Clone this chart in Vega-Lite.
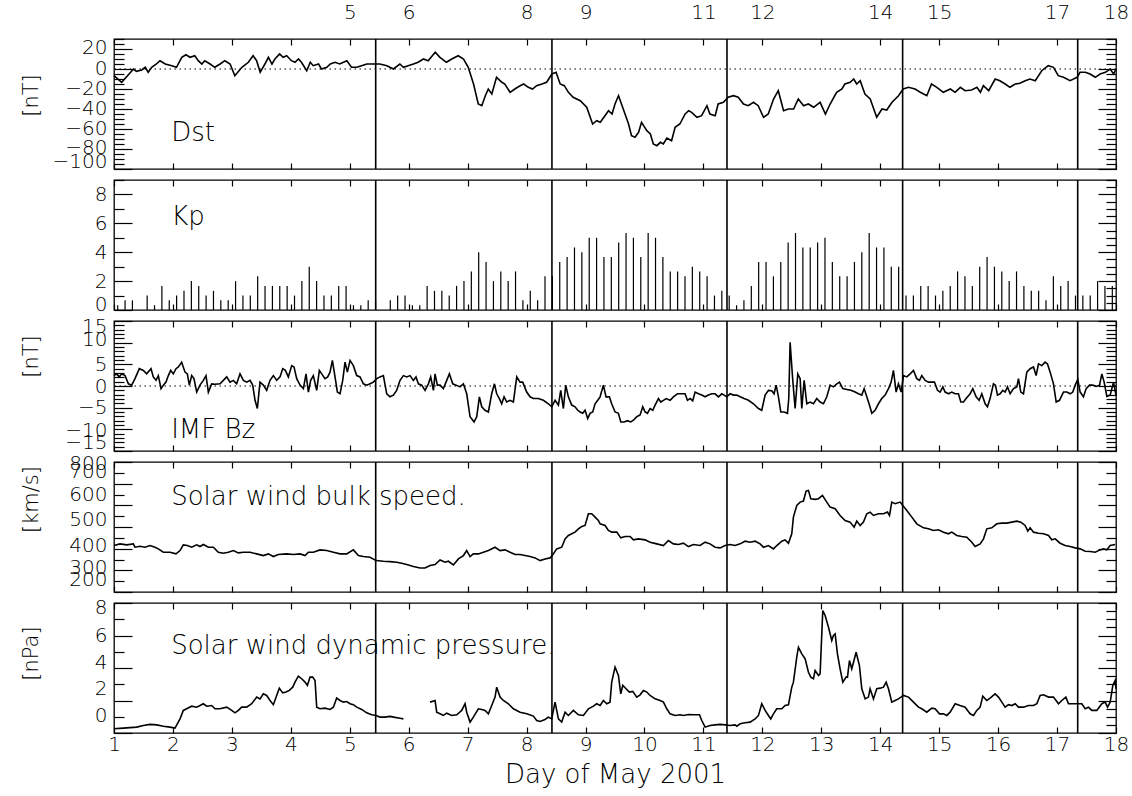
{
  "$schema": "https://vega.github.io/schema/vega-lite/v6.json",
  "background": "white",
  "autosize": {"type": "pad"},
  "padding": {"left": 19, "top": 1, "right": 5, "bottom": 8},
  "spacing": 11,
  "bounds": "flush",
  "config": {
    "view": {"stroke": "black", "strokeWidth": 1.3},
    "font": "DejaVu Sans",
    "axis": {
      "domain": false, "grid": false,
      "tickColor": "black", "tickWidth": 1.2,
      "labelColor": "black", "labelFont": "DejaVu Sans", "labelFontSize": 20, "labelFontWeight": 200,
      "labelOverlap": false, "labelFlush": false, "labelBound": false,
      "titleColor": "black", "titleFont": "DejaVu Sans", "titleFontSize": 21, "titleFontWeight": 200
    },
    "text": {"font": "DejaVu Sans", "fontSize": 26, "fontWeight": 200, "align": "left", "baseline": "alphabetic", "color": "black"}
  },
  "datasets": {
    "events": [{"d": 5.44}, {"d": 8.43}, {"d": 11.40}, {"d": 14.38}, {"d": 17.35}],
    "dst": [
      {"d":1.00,"v":-6.7},{"d":1.13,"v":-13.3},{"d":1.33,"v":0},{"d":1.38,"v":-2.3},{"d":1.47,"v":-1},{"d":1.53,"v":1.7},{"d":1.58,"v":-3.3},{"d":1.64,"v":1.7},{"d":1.72,"v":5},{"d":1.78,"v":8.3},{"d":1.87,"v":5},{"d":1.98,"v":3.3},{"d":2.06,"v":1.7},{"d":2.15,"v":11.7},{"d":2.22,"v":14.3},{"d":2.29,"v":11.7},{"d":2.37,"v":13.3},{"d":2.43,"v":8.3},{"d":2.49,"v":5},{"d":2.54,"v":8.3},{"d":2.63,"v":5},{"d":2.71,"v":1.7},{"d":2.80,"v":5},{"d":2.88,"v":8.3},{"d":2.97,"v":5},{"d":3.05,"v":-6.7},{"d":3.17,"v":1.7},{"d":3.28,"v":6.7},{"d":3.36,"v":13.3},{"d":3.42,"v":8.3},{"d":3.48,"v":-3.3},{"d":3.56,"v":5},{"d":3.62,"v":11.7},{"d":3.68,"v":5},{"d":3.73,"v":10},{"d":3.81,"v":15},{"d":3.87,"v":11.7},{"d":3.93,"v":13.3},{"d":4.01,"v":8.3},{"d":4.07,"v":6.7},{"d":4.13,"v":10},{"d":4.18,"v":6.7},{"d":4.27,"v":-1.7},{"d":4.33,"v":6.7},{"d":4.38,"v":3.3},{"d":4.47,"v":5},{"d":4.52,"v":0},{"d":4.61,"v":1.7},{"d":4.67,"v":5},{"d":4.75,"v":6.7},{"d":4.83,"v":5},{"d":4.95,"v":8.3},{"d":5.03,"v":1.7},{"d":5.12,"v":1.7},{"d":5.20,"v":3.3},{"d":5.29,"v":5},{"d":5.40,"v":5},{"d":5.51,"v":5},{"d":5.63,"v":3.3},{"d":5.74,"v":0},{"d":5.85,"v":5},{"d":5.91,"v":1.7},{"d":5.99,"v":3.3},{"d":6.08,"v":5},{"d":6.16,"v":6.7},{"d":6.25,"v":10},{"d":6.33,"v":8.3},{"d":6.45,"v":16.7},{"d":6.53,"v":11.7},{"d":6.64,"v":6.7},{"d":6.73,"v":10},{"d":6.84,"v":13.3},{"d":6.93,"v":10},{"d":7.01,"v":1.7},{"d":7.10,"v":-15},{"d":7.18,"v":-35},{"d":7.24,"v":-36.7},{"d":7.30,"v":-26.7},{"d":7.35,"v":-20},{"d":7.41,"v":-25},{"d":7.49,"v":-8.3},{"d":7.58,"v":-13.3},{"d":7.63,"v":-15},{"d":7.72,"v":-23.3},{"d":7.80,"v":-20},{"d":7.89,"v":-16.7},{"d":7.95,"v":-15},{"d":8.03,"v":-18.3},{"d":8.10,"v":-20},{"d":8.17,"v":-16.7},{"d":8.26,"v":-15},{"d":8.34,"v":-13.3},{"d":8.43,"v":-5},{"d":8.50,"v":-3.3},{"d":8.57,"v":-15},{"d":8.64,"v":-16.7},{"d":8.71,"v":-23.3},{"d":8.79,"v":-28.3},{"d":8.91,"v":-31.7},{"d":9.02,"v":-38.3},{"d":9.12,"v":-55},{"d":9.19,"v":-51.7},{"d":9.25,"v":-53.3},{"d":9.33,"v":-46.7},{"d":9.39,"v":-41.7},{"d":9.45,"v":-45},{"d":9.50,"v":-35},{"d":9.56,"v":-26.7},{"d":9.64,"v":-40},{"d":9.73,"v":-55},{"d":9.78,"v":-66.7},{"d":9.84,"v":-68.3},{"d":9.90,"v":-63.3},{"d":9.95,"v":-53.3},{"d":10.04,"v":-61.7},{"d":10.10,"v":-65},{"d":10.15,"v":-75},{"d":10.21,"v":-76.7},{"d":10.27,"v":-73.3},{"d":10.32,"v":-75},{"d":10.38,"v":-69},{"d":10.46,"v":-71.7},{"d":10.52,"v":-58.3},{"d":10.60,"v":-55},{"d":10.69,"v":-45},{"d":10.75,"v":-41.7},{"d":10.80,"v":-43.3},{"d":10.89,"v":-48.3},{"d":10.97,"v":-46.7},{"d":11.06,"v":-36.7},{"d":11.11,"v":-45},{"d":11.20,"v":-46.7},{"d":11.25,"v":-35},{"d":11.34,"v":-33.3},{"d":11.42,"v":-28.3},{"d":11.51,"v":-26.7},{"d":11.59,"v":-28.3},{"d":11.68,"v":-35},{"d":11.76,"v":-36.7},{"d":11.85,"v":-33.3},{"d":11.93,"v":-36.7},{"d":12.02,"v":-48.3},{"d":12.10,"v":-45},{"d":12.19,"v":-30},{"d":12.27,"v":-21.7},{"d":12.36,"v":-41.7},{"d":12.44,"v":-40},{"d":12.53,"v":-40},{"d":12.61,"v":-30},{"d":12.70,"v":-36.7},{"d":12.78,"v":-35},{"d":12.87,"v":-38.3},{"d":12.98,"v":-33.3},{"d":13.07,"v":-45},{"d":13.15,"v":-35},{"d":13.26,"v":-23.3},{"d":13.35,"v":-20},{"d":13.40,"v":-15},{"d":13.49,"v":-13.3},{"d":13.55,"v":-10},{"d":13.60,"v":-15},{"d":13.66,"v":-11.7},{"d":13.74,"v":-25},{"d":13.83,"v":-30},{"d":13.94,"v":-48.3},{"d":14.03,"v":-40},{"d":14.11,"v":-41},{"d":14.20,"v":-33.3},{"d":14.31,"v":-26.7},{"d":14.39,"v":-20},{"d":14.48,"v":-18.3},{"d":14.59,"v":-20},{"d":14.68,"v":-23.3},{"d":14.79,"v":-26.7},{"d":14.87,"v":-15},{"d":14.96,"v":-18.3},{"d":15.07,"v":-23.3},{"d":15.19,"v":-20},{"d":15.27,"v":-23.3},{"d":15.36,"v":-18.3},{"d":15.44,"v":-21.7},{"d":15.55,"v":-21},{"d":15.64,"v":-18.3},{"d":15.70,"v":-23.3},{"d":15.75,"v":-16.7},{"d":15.84,"v":-21.7},{"d":15.95,"v":-10},{"d":16.03,"v":-11.7},{"d":16.12,"v":-15},{"d":16.20,"v":-18.3},{"d":16.29,"v":-15},{"d":16.37,"v":-14.3},{"d":16.46,"v":-11.7},{"d":16.54,"v":-10},{"d":16.63,"v":-11.7},{"d":16.74,"v":-1.7},{"d":16.85,"v":3.3},{"d":16.94,"v":1.7},{"d":17.02,"v":-6.7},{"d":17.11,"v":-8.3},{"d":17.22,"v":-11.7},{"d":17.34,"v":-8.3},{"d":17.39,"v":-3.3},{"d":17.48,"v":-3.3},{"d":17.56,"v":-5},{"d":17.65,"v":-8.3},{"d":17.73,"v":-5},{"d":17.82,"v":-3.3},{"d":17.90,"v":0},{"d":17.96,"v":-5},{"d":18.00,"v":0}
    ],
    "kp": [
      {"d":1.0625,"v":0.33},{"d":1.1875,"v":0.67},{"d":1.3125,"v":0.67},{"d":1.4375,"v":0},{"d":1.5625,"v":1.0},{"d":1.6875,"v":0.33},{"d":1.8125,"v":1.67},{"d":1.9375,"v":0.67},
      {"d":2.0625,"v":1.0},{"d":2.1875,"v":1.33},{"d":2.3125,"v":2.0},{"d":2.4375,"v":1.67},{"d":2.5625,"v":1.0},{"d":2.6875,"v":1.33},{"d":2.8125,"v":0.67},{"d":2.9375,"v":0.67},
      {"d":3.0625,"v":2.0},{"d":3.1875,"v":1.0},{"d":3.3125,"v":1.0},{"d":3.4375,"v":2.33},{"d":3.5625,"v":1.67},{"d":3.6875,"v":1.67},{"d":3.8125,"v":1.67},{"d":3.9375,"v":1.67},
      {"d":4.0625,"v":1.0},{"d":4.1875,"v":2.0},{"d":4.3125,"v":3.0},{"d":4.4375,"v":2.0},{"d":4.5625,"v":1.0},{"d":4.6875,"v":1.0},{"d":4.8125,"v":1.67},{"d":4.9375,"v":1.67},
      {"d":5.0625,"v":0.33},{"d":5.1875,"v":0.33},{"d":5.3125,"v":0.67},{"d":5.4375,"v":0.67},{"d":5.5625,"v":0},{"d":5.6875,"v":0.67},{"d":5.8125,"v":1.0},{"d":5.9375,"v":1.0},
      {"d":6.0625,"v":0.33},{"d":6.1875,"v":0.33},{"d":6.3125,"v":1.67},{"d":6.4375,"v":1.33},{"d":6.5625,"v":1.33},{"d":6.6875,"v":1.0},{"d":6.8125,"v":1.67},{"d":6.9375,"v":2.0},
      {"d":7.0625,"v":2.67},{"d":7.1875,"v":4.0},{"d":7.3125,"v":3.33},{"d":7.4375,"v":2.0},{"d":7.5625,"v":2.67},{"d":7.6875,"v":2.0},{"d":7.8125,"v":2.67},{"d":7.9375,"v":0.67},
      {"d":8.0625,"v":1.33},{"d":8.1875,"v":0.67},{"d":8.3125,"v":2.33},{"d":8.4375,"v":2.33},{"d":8.5625,"v":3.33},{"d":8.6875,"v":3.67},{"d":8.8125,"v":4.33},{"d":8.9375,"v":4.0},
      {"d":9.0625,"v":5.0},{"d":9.1875,"v":5.0},{"d":9.3125,"v":3.67},{"d":9.4375,"v":3.67},{"d":9.5625,"v":4.67},{"d":9.6875,"v":5.33},{"d":9.8125,"v":5.0},{"d":9.9375,"v":3.67},
      {"d":10.0625,"v":5.33},{"d":10.1875,"v":5.0},{"d":10.3125,"v":3.67},{"d":10.4375,"v":2.67},{"d":10.5625,"v":2.67},{"d":10.6875,"v":2.33},{"d":10.8125,"v":3.0},{"d":10.9375,"v":2.67},
      {"d":11.0625,"v":2.33},{"d":11.1875,"v":1.0},{"d":11.3125,"v":1.33},{"d":11.4375,"v":1.0},{"d":11.5625,"v":0.33},{"d":11.6875,"v":0.67},{"d":11.8125,"v":1.67},{"d":11.9375,"v":3.33},
      {"d":12.0625,"v":3.33},{"d":12.1875,"v":2.33},{"d":12.3125,"v":3.33},{"d":12.4375,"v":4.67},{"d":12.5625,"v":5.33},{"d":12.6875,"v":4.33},{"d":12.8125,"v":4.33},{"d":12.9375,"v":4.67},
      {"d":13.0625,"v":5.0},{"d":13.1875,"v":3.33},{"d":13.3125,"v":2.33},{"d":13.4375,"v":2.33},{"d":13.5625,"v":3.33},{"d":13.6875,"v":4.0},{"d":13.8125,"v":5.33},{"d":13.9375,"v":4.33},
      {"d":14.0625,"v":4.33},{"d":14.1875,"v":3.0},{"d":14.3125,"v":3.0},{"d":14.4375,"v":1.0},{"d":14.5625,"v":1.0},{"d":14.6875,"v":1.67},{"d":14.8125,"v":1.67},{"d":14.9375,"v":1.0},
      {"d":15.0625,"v":1.33},{"d":15.1875,"v":1.67},{"d":15.3125,"v":2.67},{"d":15.4375,"v":2.33},{"d":15.5625,"v":1.67},{"d":15.6875,"v":3.0},{"d":15.8125,"v":3.67},{"d":15.9375,"v":3.0},
      {"d":16.0625,"v":2.67},{"d":16.1875,"v":2.0},{"d":16.3125,"v":2.67},{"d":16.4375,"v":1.67},{"d":16.5625,"v":1.33},{"d":16.6875,"v":1.33},{"d":16.8125,"v":0.67},{"d":16.9375,"v":2.33},
      {"d":17.0625,"v":1.67},{"d":17.1875,"v":2.0},{"d":17.3125,"v":1.0},{"d":17.4375,"v":1.0},{"d":17.5625,"v":1.0},{"d":17.6875,"v":2.0},{"d":17.8125,"v":1.67},{"d":17.9375,"v":1.67}
    ],
    "bz": [
      {"d":1.000,"v":2.4},{"d":1.045,"v":2.8},{"d":1.090,"v":2.1},{"d":1.130,"v":2.8},{"d":1.187,"v":2.4},{"d":1.244,"v":0.5},{"d":1.300,"v":0.2},{"d":1.356,"v":1.7},{"d":1.430,"v":4.0},{"d":1.498,"v":3.6},{"d":1.554,"v":2.8},{"d":1.628,"v":4.0},{"d":1.667,"v":2.1},{"d":1.713,"v":1.3},{"d":1.752,"v":2.4},{"d":1.798,"v":-0.6},{"d":1.837,"v":0.2},{"d":1.882,"v":0.9},{"d":1.922,"v":2.4},{"d":1.962,"v":3.6},{"d":2.007,"v":2.8},{"d":2.052,"v":4.0},{"d":2.092,"v":4.4},{"d":2.148,"v":5.5},{"d":2.205,"v":3.2},{"d":2.244,"v":2.8},{"d":2.278,"v":0.2},{"d":2.318,"v":2.4},{"d":2.357,"v":1.7},{"d":2.403,"v":-1.4},{"d":2.459,"v":0.2},{"d":2.516,"v":1.3},{"d":2.561,"v":2.4},{"d":2.601,"v":-1.4},{"d":2.657,"v":0.5},{"d":2.714,"v":0.4},{"d":2.799,"v":0.5},{"d":2.855,"v":1.3},{"d":2.912,"v":2.1},{"d":2.968,"v":0.9},{"d":3.025,"v":1.3},{"d":3.081,"v":0.5},{"d":3.138,"v":2.8},{"d":3.195,"v":1.3},{"d":3.251,"v":0.9},{"d":3.308,"v":1.3},{"d":3.353,"v":0.2},{"d":3.393,"v":-3.3},{"d":3.432,"v":-5.2},{"d":3.477,"v":0.9},{"d":3.534,"v":0.2},{"d":3.590,"v":-1.0},{"d":3.647,"v":1.3},{"d":3.704,"v":2.4},{"d":3.760,"v":1.3},{"d":3.817,"v":2.1},{"d":3.862,"v":4.0},{"d":3.907,"v":3.6},{"d":3.958,"v":2.1},{"d":4.015,"v":4.7},{"d":4.054,"v":4.4},{"d":4.100,"v":1.7},{"d":4.156,"v":0.2},{"d":4.213,"v":-0.6},{"d":4.258,"v":2.8},{"d":4.298,"v":-1.4},{"d":4.337,"v":1.3},{"d":4.382,"v":2.4},{"d":4.439,"v":-1.0},{"d":4.484,"v":3.6},{"d":4.524,"v":2.8},{"d":4.580,"v":1.7},{"d":4.626,"v":2.1},{"d":4.665,"v":3.2},{"d":4.705,"v":5.9},{"d":4.750,"v":2.1},{"d":4.790,"v":-1.4},{"d":4.835,"v":-1.8},{"d":4.880,"v":1.3},{"d":4.920,"v":5.5},{"d":4.959,"v":3.2},{"d":5.005,"v":5.9},{"d":5.061,"v":4.7},{"d":5.118,"v":2.4},{"d":5.174,"v":2.1},{"d":5.231,"v":0.5},{"d":5.287,"v":0.2},{"d":5.344,"v":0.5},{"d":5.400,"v":0.9},{"d":5.457,"v":1.7},{"d":5.514,"v":2.1},{"d":5.570,"v":2.4},{"d":5.627,"v":-1.8},{"d":5.683,"v":-2.5},{"d":5.740,"v":-2.1},{"d":5.796,"v":-1.0},{"d":5.853,"v":1.3},{"d":5.910,"v":2.4},{"d":5.966,"v":2.1},{"d":6.023,"v":2.4},{"d":6.079,"v":1.3},{"d":6.124,"v":2.1},{"d":6.164,"v":0.5},{"d":6.221,"v":0.2},{"d":6.277,"v":-1.0},{"d":6.334,"v":0.5},{"d":6.373,"v":2.1},{"d":6.419,"v":-1.0},{"d":6.447,"v":2.8},{"d":6.486,"v":0.2},{"d":6.532,"v":0.2},{"d":6.588,"v":-0.6},{"d":6.645,"v":1.3},{"d":6.690,"v":2.8},{"d":6.747,"v":0.5},{"d":6.803,"v":0.2},{"d":6.871,"v":-0.2},{"d":6.928,"v":0.5},{"d":6.984,"v":-1.8},{"d":7.041,"v":-7.1},{"d":7.109,"v":-8.3},{"d":7.154,"v":-7.1},{"d":7.199,"v":-2.5},{"d":7.239,"v":-4.8},{"d":7.295,"v":-5.6},{"d":7.352,"v":-6.0},{"d":7.408,"v":-1.8},{"d":7.454,"v":0.5},{"d":7.493,"v":-1.8},{"d":7.538,"v":-2.9},{"d":7.578,"v":-4.1},{"d":7.618,"v":-2.5},{"d":7.663,"v":-3.7},{"d":7.719,"v":-3.3},{"d":7.776,"v":-3.7},{"d":7.833,"v":2.1},{"d":7.889,"v":0.9},{"d":7.934,"v":0.9},{"d":8.002,"v":-1.4},{"d":8.059,"v":-2.5},{"d":8.115,"v":-2.9},{"d":8.200,"v":-2.9},{"d":8.285,"v":-3.3},{"d":8.370,"v":-4.1},{"d":8.426,"v":-4.8},{"d":8.483,"v":-3.3},{"d":8.540,"v":-4.4},{"d":8.579,"v":-1.0},{"d":8.624,"v":-5.2},{"d":8.664,"v":0.2},{"d":8.709,"v":-2.5},{"d":8.766,"v":-4.4},{"d":8.822,"v":-4.8},{"d":8.868,"v":-5.6},{"d":8.907,"v":-6.0},{"d":8.952,"v":-6.3},{"d":8.992,"v":-5.6},{"d":9.037,"v":-7.5},{"d":9.077,"v":-6.3},{"d":9.122,"v":-6.0},{"d":9.162,"v":-4.1},{"d":9.207,"v":-3.3},{"d":9.247,"v":-2.5},{"d":9.303,"v":0.2},{"d":9.348,"v":-2.5},{"d":9.405,"v":-2.5},{"d":9.444,"v":-4.1},{"d":9.501,"v":-6.0},{"d":9.558,"v":-6.3},{"d":9.598,"v":-8.3},{"d":9.654,"v":-8.3},{"d":9.711,"v":-8.0},{"d":9.767,"v":-8.3},{"d":9.813,"v":-7.9},{"d":9.869,"v":-7.1},{"d":9.926,"v":-6.7},{"d":9.971,"v":-4.8},{"d":10.011,"v":-6.0},{"d":10.050,"v":-6.3},{"d":10.095,"v":-5.2},{"d":10.141,"v":-5.6},{"d":10.180,"v":-4.4},{"d":10.237,"v":-2.9},{"d":10.276,"v":-3.7},{"d":10.322,"v":-3.3},{"d":10.367,"v":-2.9},{"d":10.435,"v":-3.3},{"d":10.491,"v":-2.5},{"d":10.559,"v":-1.8},{"d":10.633,"v":-1.8},{"d":10.689,"v":-1.8},{"d":10.729,"v":-3.3},{"d":10.774,"v":-2.9},{"d":10.819,"v":-3.4},{"d":10.859,"v":-1.4},{"d":10.916,"v":-1.8},{"d":10.972,"v":-2.1},{"d":11.029,"v":-2.5},{"d":11.085,"v":-2.1},{"d":11.142,"v":-1.8},{"d":11.198,"v":-1.8},{"d":11.255,"v":-2.5},{"d":11.311,"v":-1.8},{"d":11.351,"v":-2.1},{"d":11.396,"v":-2.5},{"d":11.453,"v":-1.8},{"d":11.509,"v":-2.1},{"d":11.566,"v":-2.1},{"d":11.623,"v":-2.5},{"d":11.690,"v":-2.9},{"d":11.764,"v":-3.3},{"d":11.849,"v":-4.1},{"d":11.934,"v":-5.2},{"d":11.990,"v":-5.6},{"d":12.047,"v":-2.1},{"d":12.103,"v":-1.0},{"d":12.160,"v":-1.1},{"d":12.199,"v":-1.8},{"d":12.234,"v":0.2},{"d":12.273,"v":-2.5},{"d":12.313,"v":-6.0},{"d":12.369,"v":-6.0},{"d":12.426,"v":-6.3},{"d":12.448,"v":-2.9},{"d":12.471,"v":10.1},{"d":12.516,"v":1.3},{"d":12.556,"v":-5.2},{"d":12.601,"v":2.8},{"d":12.641,"v":1.7},{"d":12.669,"v":-5.2},{"d":12.709,"v":1.3},{"d":12.754,"v":-4.1},{"d":12.810,"v":-3.7},{"d":12.867,"v":-4.1},{"d":12.923,"v":-2.9},{"d":12.980,"v":-3.7},{"d":13.037,"v":-4.1},{"d":13.093,"v":-2.5},{"d":13.150,"v":0.2},{"d":13.206,"v":-0.2},{"d":13.263,"v":0.5},{"d":13.308,"v":0.9},{"d":13.365,"v":-0.6},{"d":13.433,"v":-0.8},{"d":13.500,"v":-1.0},{"d":13.574,"v":-1.4},{"d":13.630,"v":-1.8},{"d":13.687,"v":-2.1},{"d":13.727,"v":-0.6},{"d":13.772,"v":-2.5},{"d":13.817,"v":-4.4},{"d":13.857,"v":-6.3},{"d":13.913,"v":-5.6},{"d":13.970,"v":-4.1},{"d":14.026,"v":-2.9},{"d":14.083,"v":-2.1},{"d":14.140,"v":-0.6},{"d":14.185,"v":0.9},{"d":14.224,"v":3.6},{"d":14.270,"v":-1.4},{"d":14.309,"v":0.5},{"d":14.355,"v":-1.4},{"d":14.394,"v":2.4},{"d":14.451,"v":2.1},{"d":14.507,"v":2.8},{"d":14.564,"v":3.6},{"d":14.620,"v":1.7},{"d":14.666,"v":1.3},{"d":14.705,"v":2.4},{"d":14.762,"v":1.3},{"d":14.818,"v":0.9},{"d":14.875,"v":0.9},{"d":14.920,"v":0.9},{"d":14.971,"v":-1.0},{"d":15.016,"v":-1.4},{"d":15.062,"v":-0.2},{"d":15.101,"v":-1.4},{"d":15.158,"v":-1.8},{"d":15.214,"v":-1.4},{"d":15.271,"v":-1.8},{"d":15.327,"v":-1.8},{"d":15.367,"v":-3.7},{"d":15.412,"v":-3.7},{"d":15.457,"v":-2.9},{"d":15.525,"v":-1.8},{"d":15.570,"v":-0.6},{"d":15.627,"v":-2.5},{"d":15.678,"v":-3.3},{"d":15.723,"v":-1.8},{"d":15.780,"v":-4.1},{"d":15.819,"v":-4.8},{"d":15.864,"v":-2.9},{"d":15.921,"v":0.5},{"d":15.955,"v":0.2},{"d":15.989,"v":-2.1},{"d":16.034,"v":-1.8},{"d":16.080,"v":-1.0},{"d":16.119,"v":-1.4},{"d":16.159,"v":-0.2},{"d":16.204,"v":-1.8},{"d":16.261,"v":-0.6},{"d":16.317,"v":-0.2},{"d":16.345,"v":1.7},{"d":16.385,"v":-1.4},{"d":16.430,"v":-1.8},{"d":16.487,"v":3.2},{"d":16.543,"v":4.0},{"d":16.600,"v":4.4},{"d":16.645,"v":2.4},{"d":16.685,"v":5.1},{"d":16.741,"v":4.7},{"d":16.798,"v":5.5},{"d":16.838,"v":5.1},{"d":16.883,"v":3.2},{"d":16.939,"v":0.5},{"d":16.985,"v":-3.7},{"d":17.041,"v":-3.3},{"d":17.109,"v":-1.4},{"d":17.166,"v":-1.4},{"d":17.222,"v":-1.8},{"d":17.267,"v":-1.4},{"d":17.307,"v":0.2},{"d":17.352,"v":1.5},{"d":17.392,"v":-1.4},{"d":17.448,"v":-2.5},{"d":17.494,"v":-0.6},{"d":17.550,"v":0.2},{"d":17.607,"v":0.2},{"d":17.663,"v":-0.1},{"d":17.720,"v":0.2},{"d":17.760,"v":2.8},{"d":17.799,"v":0.9},{"d":17.844,"v":-2.4},{"d":17.901,"v":-2.1},{"d":17.958,"v":0.9},{"d":18.000,"v":-2.1}
    ],
    "speed": [
      {"d":1.000,"v":414.5},{"d":1.102,"v":422.2},{"d":1.215,"v":417.5},{"d":1.328,"v":422.2},{"d":1.356,"v":406.7},{"d":1.441,"v":411.4},{"d":1.526,"v":406.7},{"d":1.611,"v":414.5},{"d":1.696,"v":406.7},{"d":1.752,"v":399.0},{"d":1.837,"v":383.6},{"d":1.950,"v":383.6},{"d":2.052,"v":375.9},{"d":2.120,"v":391.3},{"d":2.176,"v":417.5},{"d":2.244,"v":414.5},{"d":2.318,"v":406.7},{"d":2.403,"v":417.5},{"d":2.459,"v":409.8},{"d":2.516,"v":419.1},{"d":2.601,"v":406.7},{"d":2.686,"v":406.7},{"d":2.770,"v":383.6},{"d":2.855,"v":379.0},{"d":2.940,"v":383.6},{"d":3.025,"v":391.3},{"d":3.110,"v":380.5},{"d":3.195,"v":383.6},{"d":3.308,"v":383.6},{"d":3.421,"v":375.9},{"d":3.534,"v":368.2},{"d":3.619,"v":375.9},{"d":3.704,"v":363.5},{"d":3.788,"v":372.8},{"d":3.930,"v":375.9},{"d":4.043,"v":372.8},{"d":4.156,"v":375.9},{"d":4.241,"v":368.2},{"d":4.298,"v":383.6},{"d":4.382,"v":383.6},{"d":4.495,"v":394.4},{"d":4.609,"v":391.3},{"d":4.722,"v":383.6},{"d":4.835,"v":375.9},{"d":4.948,"v":375.9},{"d":5.061,"v":394.4},{"d":5.146,"v":368.2},{"d":5.231,"v":363.5},{"d":5.344,"v":360.4},{"d":5.446,"v":345.0},{"d":5.570,"v":342.0},{"d":5.683,"v":340.4},{"d":5.796,"v":337.3},{"d":5.881,"v":332.7},{"d":5.966,"v":326.5},{"d":6.079,"v":317.3},{"d":6.192,"v":311.1},{"d":6.277,"v":311.1},{"d":6.362,"v":321.9},{"d":6.447,"v":326.5},{"d":6.532,"v":348.1},{"d":6.617,"v":337.3},{"d":6.673,"v":342.0},{"d":6.758,"v":325.0},{"d":6.843,"v":352.7},{"d":6.928,"v":368.2},{"d":6.984,"v":391.3},{"d":7.041,"v":363.5},{"d":7.097,"v":375.9},{"d":7.182,"v":375.9},{"d":7.267,"v":383.6},{"d":7.352,"v":391.3},{"d":7.465,"v":406.7},{"d":7.550,"v":391.3},{"d":7.635,"v":394.4},{"d":7.719,"v":383.6},{"d":7.804,"v":372.8},{"d":7.889,"v":372.8},{"d":7.974,"v":368.2},{"d":8.059,"v":363.5},{"d":8.144,"v":357.4},{"d":8.229,"v":345.0},{"d":8.313,"v":352.7},{"d":8.398,"v":357.4},{"d":8.455,"v":375.9},{"d":8.511,"v":399.0},{"d":8.596,"v":406.7},{"d":8.653,"v":445.3},{"d":8.709,"v":460.7},{"d":8.766,"v":468.5},{"d":8.822,"v":476.2},{"d":8.879,"v":491.6},{"d":8.936,"v":502.4},{"d":8.992,"v":507.0},{"d":9.049,"v":561.0},{"d":9.105,"v":561.0},{"d":9.162,"v":545.6},{"d":9.218,"v":530.2},{"d":9.247,"v":514.7},{"d":9.332,"v":507.0},{"d":9.388,"v":483.9},{"d":9.445,"v":476.2},{"d":9.530,"v":476.2},{"d":9.598,"v":449.9},{"d":9.671,"v":456.1},{"d":9.756,"v":456.1},{"d":9.813,"v":440.7},{"d":9.897,"v":445.3},{"d":10.011,"v":440.7},{"d":10.095,"v":429.9},{"d":10.209,"v":422.2},{"d":10.322,"v":414.5},{"d":10.406,"v":437.6},{"d":10.491,"v":422.2},{"d":10.576,"v":419.1},{"d":10.661,"v":425.2},{"d":10.746,"v":409.8},{"d":10.831,"v":419.1},{"d":10.944,"v":414.5},{"d":11.029,"v":429.9},{"d":11.113,"v":422.2},{"d":11.198,"v":406.7},{"d":11.283,"v":403.6},{"d":11.368,"v":414.5},{"d":11.453,"v":419.1},{"d":11.538,"v":414.5},{"d":11.623,"v":422.2},{"d":11.707,"v":434.5},{"d":11.792,"v":429.9},{"d":11.877,"v":434.5},{"d":11.962,"v":422.2},{"d":12.019,"v":406.7},{"d":12.103,"v":414.5},{"d":12.188,"v":399.0},{"d":12.245,"v":414.5},{"d":12.330,"v":434.5},{"d":12.386,"v":440.7},{"d":12.443,"v":425.2},{"d":12.499,"v":468.5},{"d":12.527,"v":545.6},{"d":12.584,"v":599.6},{"d":12.641,"v":615.0},{"d":12.697,"v":619.7},{"d":12.742,"v":666.0},{"d":12.782,"v":669.0},{"d":12.822,"v":630.5},{"d":12.895,"v":627.4},{"d":12.952,"v":630.5},{"d":13.020,"v":645.9},{"d":13.093,"v":615.0},{"d":13.150,"v":591.9},{"d":13.235,"v":584.2},{"d":13.319,"v":553.3},{"d":13.404,"v":530.2},{"d":13.489,"v":522.5},{"d":13.557,"v":499.3},{"d":13.602,"v":527.1},{"d":13.659,"v":507.0},{"d":13.715,"v":522.5},{"d":13.772,"v":561.0},{"d":13.828,"v":568.7},{"d":13.885,"v":553.3},{"d":13.970,"v":561.0},{"d":14.055,"v":561.0},{"d":14.123,"v":568.7},{"d":14.157,"v":553.3},{"d":14.196,"v":615.0},{"d":14.253,"v":607.3},{"d":14.338,"v":615.0},{"d":14.383,"v":599.6},{"d":14.451,"v":576.5},{"d":14.536,"v":545.6},{"d":14.620,"v":514.7},{"d":14.734,"v":496.2},{"d":14.818,"v":491.6},{"d":14.903,"v":483.9},{"d":14.988,"v":487.0},{"d":15.073,"v":476.2},{"d":15.158,"v":468.5},{"d":15.214,"v":476.2},{"d":15.299,"v":460.7},{"d":15.384,"v":456.1},{"d":15.469,"v":453.0},{"d":15.554,"v":429.9},{"d":15.610,"v":409.8},{"d":15.695,"v":422.2},{"d":15.752,"v":445.3},{"d":15.808,"v":491.6},{"d":15.893,"v":496.2},{"d":15.978,"v":514.7},{"d":16.063,"v":517.8},{"d":16.147,"v":517.8},{"d":16.232,"v":522.5},{"d":16.317,"v":527.1},{"d":16.385,"v":522.5},{"d":16.458,"v":507.0},{"d":16.504,"v":480.8},{"d":16.543,"v":496.2},{"d":16.600,"v":476.2},{"d":16.685,"v":471.5},{"d":16.770,"v":468.5},{"d":16.855,"v":460.7},{"d":16.911,"v":440.7},{"d":16.968,"v":445.3},{"d":17.052,"v":425.2},{"d":17.137,"v":414.5},{"d":17.222,"v":409.8},{"d":17.307,"v":403.6},{"d":17.392,"v":399.0},{"d":17.477,"v":388.2},{"d":17.561,"v":386.7},{"d":17.646,"v":383.6},{"d":17.731,"v":394.4},{"d":17.788,"v":399.0},{"d":17.844,"v":394.4},{"d":17.901,"v":414.5},{"d":17.986,"v":419.1}
    ],
    "pres": [
      {"d":1.000,"v":0.26},{"d":1.158,"v":0.30},{"d":1.385,"v":0.36},{"d":1.498,"v":0.46},{"d":1.611,"v":0.53},{"d":1.724,"v":0.50},{"d":1.837,"v":0.42},{"d":1.950,"v":0.36},{"d":2.035,"v":0.30},{"d":2.120,"v":0.87},{"d":2.176,"v":1.39},{"d":2.233,"v":1.49},{"d":2.318,"v":1.65},{"d":2.403,"v":1.59},{"d":2.459,"v":1.69},{"d":2.516,"v":1.80},{"d":2.572,"v":1.65},{"d":2.657,"v":1.69},{"d":2.714,"v":1.49},{"d":2.799,"v":1.49},{"d":2.912,"v":1.59},{"d":2.997,"v":1.39},{"d":3.053,"v":1.24},{"d":3.110,"v":1.39},{"d":3.166,"v":1.59},{"d":3.251,"v":1.59},{"d":3.336,"v":1.80},{"d":3.421,"v":2.21},{"d":3.477,"v":2.10},{"d":3.534,"v":2.41},{"d":3.590,"v":2.31},{"d":3.647,"v":2.00},{"d":3.704,"v":1.74},{"d":3.760,"v":2.31},{"d":3.805,"v":2.76},{"d":3.862,"v":2.47},{"d":3.919,"v":2.52},{"d":3.975,"v":2.62},{"d":4.032,"v":2.82},{"d":4.071,"v":3.13},{"d":4.128,"v":3.50},{"d":4.184,"v":3.34},{"d":4.241,"v":3.13},{"d":4.281,"v":2.93},{"d":4.326,"v":3.44},{"d":4.371,"v":3.44},{"d":4.411,"v":3.23},{"d":4.439,"v":1.59},{"d":4.495,"v":1.49},{"d":4.580,"v":1.53},{"d":4.665,"v":1.45},{"d":4.722,"v":1.59},{"d":4.778,"v":2.15},{"d":4.835,"v":2.00},{"d":4.891,"v":1.90},{"d":4.948,"v":1.94},{"d":5.005,"v":1.80},{"d":5.061,"v":1.74},{"d":5.118,"v":1.59},{"d":5.203,"v":1.45},{"d":5.287,"v":1.24},{"d":5.372,"v":1.12},{"d":5.446,"v":1.08},{"d":5.514,"v":0.98},{"d":5.598,"v":0.98},{"d":5.683,"v":1.02},{"d":5.768,"v":0.96},{"d":5.853,"v":0.91},{"d":5.910,"v":0.87},{"d":6.150,"v":null},{"d":6.362,"v":1.90},{"d":6.447,"v":2.00},{"d":6.475,"v":1.28},{"d":6.532,"v":1.18},{"d":6.588,"v":1.08},{"d":6.645,"v":1.22},{"d":6.730,"v":1.08},{"d":6.815,"v":1.12},{"d":6.899,"v":1.39},{"d":6.956,"v":1.80},{"d":6.984,"v":1.28},{"d":7.041,"v":0.67},{"d":7.097,"v":0.98},{"d":7.182,"v":1.49},{"d":7.239,"v":1.45},{"d":7.295,"v":1.39},{"d":7.352,"v":1.18},{"d":7.408,"v":1.69},{"d":7.465,"v":2.21},{"d":7.493,"v":2.82},{"d":7.550,"v":2.21},{"d":7.606,"v":2.00},{"d":7.691,"v":1.80},{"d":7.776,"v":1.49},{"d":7.889,"v":1.28},{"d":8.002,"v":1.18},{"d":8.115,"v":1.04},{"d":8.172,"v":0.77},{"d":8.229,"v":0.71},{"d":8.313,"v":0.83},{"d":8.370,"v":0.98},{"d":8.426,"v":0.87},{"d":8.483,"v":1.90},{"d":8.540,"v":0.87},{"d":8.596,"v":0.67},{"d":8.653,"v":1.28},{"d":8.709,"v":1.08},{"d":8.794,"v":1.39},{"d":8.879,"v":1.12},{"d":8.964,"v":1.08},{"d":9.049,"v":1.49},{"d":9.133,"v":1.65},{"d":9.190,"v":1.80},{"d":9.247,"v":1.69},{"d":9.303,"v":2.00},{"d":9.360,"v":1.80},{"d":9.416,"v":1.90},{"d":9.444,"v":3.13},{"d":9.501,"v":4.05},{"d":9.558,"v":3.54},{"d":9.598,"v":2.41},{"d":9.632,"v":2.93},{"d":9.688,"v":2.72},{"d":9.745,"v":2.52},{"d":9.801,"v":2.56},{"d":9.869,"v":2.21},{"d":9.926,"v":2.35},{"d":9.982,"v":2.62},{"d":10.039,"v":2.52},{"d":10.095,"v":2.31},{"d":10.180,"v":2.10},{"d":10.265,"v":2.00},{"d":10.322,"v":1.90},{"d":10.378,"v":1.49},{"d":10.435,"v":1.18},{"d":10.520,"v":1.08},{"d":10.605,"v":1.12},{"d":10.661,"v":1.08},{"d":10.746,"v":1.14},{"d":10.831,"v":1.12},{"d":10.933,"v":1.12},{"d":10.972,"v":0.77},{"d":11.029,"v":0.36},{"d":11.113,"v":0.46},{"d":11.198,"v":0.50},{"d":11.283,"v":0.53},{"d":11.368,"v":0.50},{"d":11.453,"v":0.46},{"d":11.538,"v":0.50},{"d":11.566,"v":0.42},{"d":11.623,"v":0.57},{"d":11.707,"v":0.63},{"d":11.792,"v":0.67},{"d":11.877,"v":0.87},{"d":11.934,"v":1.08},{"d":11.990,"v":1.80},{"d":12.047,"v":1.39},{"d":12.103,"v":1.08},{"d":12.143,"v":0.87},{"d":12.188,"v":1.18},{"d":12.245,"v":1.49},{"d":12.330,"v":1.49},{"d":12.386,"v":1.69},{"d":12.443,"v":1.74},{"d":12.499,"v":2.82},{"d":12.527,"v":3.13},{"d":12.584,"v":4.67},{"d":12.612,"v":5.28},{"d":12.669,"v":4.87},{"d":12.726,"v":4.56},{"d":12.782,"v":3.74},{"d":12.822,"v":3.44},{"d":12.867,"v":3.34},{"d":12.895,"v":3.85},{"d":12.952,"v":3.54},{"d":12.980,"v":3.64},{"d":13.025,"v":7.54},{"d":13.065,"v":7.23},{"d":13.122,"v":6.51},{"d":13.178,"v":5.69},{"d":13.206,"v":6.00},{"d":13.235,"v":6.10},{"d":13.274,"v":4.87},{"d":13.319,"v":3.95},{"d":13.365,"v":3.13},{"d":13.421,"v":3.44},{"d":13.444,"v":3.44},{"d":13.478,"v":4.46},{"d":13.517,"v":3.95},{"d":13.591,"v":4.97},{"d":13.647,"v":4.15},{"d":13.687,"v":2.72},{"d":13.744,"v":2.10},{"d":13.800,"v":2.21},{"d":13.828,"v":2.72},{"d":13.885,"v":2.10},{"d":13.941,"v":2.72},{"d":13.998,"v":2.76},{"d":14.055,"v":2.82},{"d":14.100,"v":3.13},{"d":14.140,"v":2.72},{"d":14.196,"v":1.90},{"d":14.253,"v":2.00},{"d":14.309,"v":2.10},{"d":14.394,"v":2.31},{"d":14.479,"v":2.21},{"d":14.564,"v":1.90},{"d":14.649,"v":1.59},{"d":14.705,"v":1.49},{"d":14.790,"v":1.28},{"d":14.875,"v":1.53},{"d":14.931,"v":1.49},{"d":15.005,"v":1.18},{"d":15.073,"v":1.18},{"d":15.129,"v":1.08},{"d":15.186,"v":1.28},{"d":15.271,"v":1.80},{"d":15.355,"v":1.69},{"d":15.440,"v":1.59},{"d":15.525,"v":1.18},{"d":15.582,"v":1.08},{"d":15.638,"v":1.39},{"d":15.695,"v":1.59},{"d":15.740,"v":2.27},{"d":15.808,"v":2.00},{"d":15.864,"v":2.14},{"d":15.949,"v":2.41},{"d":16.006,"v":2.21},{"d":16.063,"v":1.90},{"d":16.119,"v":1.59},{"d":16.176,"v":1.74},{"d":16.232,"v":1.69},{"d":16.289,"v":1.80},{"d":16.345,"v":1.59},{"d":16.430,"v":1.59},{"d":16.515,"v":1.69},{"d":16.600,"v":1.69},{"d":16.657,"v":1.80},{"d":16.713,"v":2.31},{"d":16.770,"v":2.35},{"d":16.855,"v":2.21},{"d":16.939,"v":2.21},{"d":17.024,"v":1.80},{"d":17.081,"v":2.00},{"d":17.149,"v":2.21},{"d":17.194,"v":1.80},{"d":17.279,"v":1.80},{"d":17.364,"v":1.80},{"d":17.420,"v":1.80},{"d":17.477,"v":1.49},{"d":17.533,"v":1.59},{"d":17.590,"v":1.39},{"d":17.674,"v":1.39},{"d":17.760,"v":1.80},{"d":17.816,"v":1.90},{"d":17.856,"v":1.59},{"d":17.901,"v":1.90},{"d":17.946,"v":2.93},{"d":17.986,"v":3.23},{"d":18.000,"v":2.72}
    ]
  },
  "vconcat": [
    {
      "width": 1002, "height": 130,
      "data": {"name": "dst"},
      "layer": [
        {
          "mark": {"type": "line", "stroke": "black", "strokeWidth": 1.6},
          "encoding": {
            "x": {"field": "d", "type": "quantitative", "scale": {"domain": [1, 18], "nice": false, "zero": false},
                  "axis": {"orient": "bottom", "values": [1,2,3,4,5,6,7,8,9,10,11,12,13,14,15,16,17,18], "tickSize": -6, "labels": false, "title": null}},
            "y": {"field": "v", "type": "quantitative", "scale": {"domain": [-100, 30], "nice": false, "zero": false},
                  "axis": {"orient": "left", "values": [-100,-95,-90,-85,-80,-75,-70,-65,-60,-55,-50,-45,-40,-35,-30,-25,-20,-15,-10,-5,0,5,10,15,20,25,30],
                           "format": "d",
                           "tickSize": {"condition": {"test": "datum.value % 20 === 0", "value": -18}, "value": -10},
                           "labelOffset": {"condition": [{"test": "datum.value === -100", "value": -8}, {"test": "datum.value === 20 || datum.value === -80", "value": -2}], "value": -1},
                           "labelExpr": "datum.value % 20 === 0 ? datum.label : ''", "labelPadding": 25,
                           "title": "[nT]", "titleAngle": 270, "titleBaseline": "middle", "titleAlign": "center", "titleX": -83, "titleY": 56}}
          }
        },
        {
          "mark": {"type": "line", "opacity": 0},
          "encoding": {
            "x": {"field": "d", "type": "quantitative",
                  "axis": {"orient": "top", "values": [1,2,3,4,5,6,7,8,9,10,11,12,13,14,15,16,17,18], "tickSize": -6,
                           "labelExpr": "indexof([5,6,8,9,11,12,14,15,17,18], datum.value) >= 0 ? datum.label : ''", "labelPadding": 23, "title": null}},
            "y": {"field": "v", "type": "quantitative",
                  "axis": {"orient": "right", "values": [-100,-95,-90,-85,-80,-75,-70,-65,-60,-55,-50,-45,-40,-35,-30,-25,-20,-15,-10,-5,0,5,10,15,20,25,30],
                           "tickSize": {"condition": {"test": "datum.value % 20 === 0", "value": -18}, "value": -10}, "labels": false, "title": null}}
          }
        },
        {
          "data": {"values": [{}]},
          "mark": {"type": "rule", "stroke": "black", "strokeWidth": 1.2, "strokeDash": [1.5, 3.5]},
          "encoding": {"y": {"datum": 0, "type": "quantitative", "axis": null}}
        },
        {
          "data": {"name": "events"},
          "mark": {"type": "rule", "stroke": "black", "strokeWidth": 1.6},
          "encoding": {"x": {"field": "d", "type": "quantitative", "axis": null}}
        },
        {
          "data": {"values": [{}]},
          "mark": {"type": "text"},
          "encoding": {"x": {"datum": 1.97, "type": "quantitative", "axis": null}, "y": {"datum": -72, "type": "quantitative", "axis": null}, "text": {"value": "Dst"}}
        }
      ],
      "resolve": {"axis": {"x": "independent", "y": "independent"}}
    },
    {
      "width": 1002, "height": 130,
      "data": {"name": "kp"},
      "layer": [
        {
          "mark": {"type": "rule", "stroke": "black", "strokeWidth": 1.2},
          "encoding": {
            "x": {"field": "d", "type": "quantitative", "scale": {"domain": [1, 18], "nice": false, "zero": false},
                  "axis": {"orient": "bottom", "values": [1,2,3,4,5,6,7,8,9,10,11,12,13,14,15,16,17,18], "tickSize": -6, "labels": false, "title": null}},
            "y": {"field": "v", "type": "quantitative", "scale": {"domain": [0, 9], "nice": false, "zero": false},
                  "axis": {"orient": "left", "values": [0,0.5,1,1.5,2,2.5,3,3.5,4,4.5,5,5.5,6,6.5,7,7.5,8,8.5,9],
                           "format": "d",
                           "tickSize": {"condition": {"test": "datum.value % 2 === 0", "value": -18}, "value": -10},
                           "labelOffset": {"condition": {"test": "datum.value === 0", "value": -6}, "value": 0},
                           "labelExpr": "datum.value % 2 === 0 && datum.value < 9 ? datum.label : ''", "labelPadding": 25, "title": null}},
            "y2": {"datum": 0}
          }
        },
        {
          "mark": {"type": "rule", "opacity": 0},
          "encoding": {
            "x": {"field": "d", "type": "quantitative",
                  "axis": {"orient": "top", "values": [1,2,3,4,5,6,7,8,9,10,11,12,13,14,15,16,17,18], "tickSize": -6, "labels": false, "title": null}},
            "y": {"field": "v", "type": "quantitative",
                  "axis": {"orient": "right", "values": [0,0.5,1,1.5,2,2.5,3,3.5,4,4.5,5,5.5,6,6.5,7,7.5,8,8.5,9],
                           "tickSize": {"condition": {"test": "datum.value % 2 === 0", "value": -18}, "value": -10}, "labels": false, "title": null}}
          }
        },
        {
          "data": {"name": "events"},
          "mark": {"type": "rule", "stroke": "black", "strokeWidth": 1.6},
          "encoding": {"x": {"field": "d", "type": "quantitative", "axis": null}}
        },
        {
          "data": {"values": [{}]},
          "mark": {"type": "text"},
          "encoding": {"x": {"datum": 1.97, "type": "quantitative", "axis": null}, "y": {"datum": 5.9, "type": "quantitative", "axis": null}, "text": {"value": "Kp"}}
        }
      ],
      "resolve": {"axis": {"x": "independent", "y": "independent"}}
    },
    {
      "width": 1002, "height": 130,
      "data": {"name": "bz"},
      "layer": [
        {
          "mark": {"type": "line", "stroke": "black", "strokeWidth": 1.6},
          "encoding": {
            "x": {"field": "d", "type": "quantitative", "scale": {"domain": [1, 18], "nice": false, "zero": false},
                  "axis": {"orient": "bottom", "values": [1,2,3,4,5,6,7,8,9,10,11,12,13,14,15,16,17,18], "tickSize": -6, "labels": false, "title": null}},
            "y": {"field": "v", "type": "quantitative", "scale": {"domain": [-15, 15], "nice": false, "zero": false},
                  "axis": {"orient": "left", "values": [-15,-14,-13,-12,-11,-10,-9,-8,-7,-6,-5,-4,-3,-2,-1,0,1,2,3,4,5,6,7,8,9,10,11,12,13,14,15],
                           "format": "d",
                           "tickSize": {"condition": {"test": "datum.value % 5 === 0", "value": -18}, "value": -10},
                           "labelOffset": {"condition": [{"test": "datum.value === 15", "value": 5}, {"test": "datum.value === 10", "value": -3}, {"test": "datum.value === -10", "value": 1}, {"test": "datum.value === -15", "value": -9}], "value": 0},
                           "labelExpr": "datum.value % 5 === 0 ? datum.label : ''", "labelPadding": 25,
                           "title": "[nT]", "titleAngle": 270, "titleBaseline": "middle", "titleAlign": "center", "titleX": -83, "titleY": 35}}
          }
        },
        {
          "mark": {"type": "line", "opacity": 0},
          "encoding": {
            "x": {"field": "d", "type": "quantitative",
                  "axis": {"orient": "top", "values": [1,2,3,4,5,6,7,8,9,10,11,12,13,14,15,16,17,18], "tickSize": -6, "labels": false, "title": null}},
            "y": {"field": "v", "type": "quantitative",
                  "axis": {"orient": "right", "values": [-15,-14,-13,-12,-11,-10,-9,-8,-7,-6,-5,-4,-3,-2,-1,0,1,2,3,4,5,6,7,8,9,10,11,12,13,14,15],
                           "tickSize": {"condition": {"test": "datum.value % 5 === 0", "value": -18}, "value": -10}, "labels": false, "title": null}}
          }
        },
        {
          "data": {"values": [{}]},
          "mark": {"type": "rule", "stroke": "black", "strokeWidth": 1.2, "strokeDash": [1.5, 3.5]},
          "encoding": {"y": {"datum": 0, "type": "quantitative", "axis": null}}
        },
        {
          "data": {"name": "events"},
          "mark": {"type": "rule", "stroke": "black", "strokeWidth": 1.6},
          "encoding": {"x": {"field": "d", "type": "quantitative", "axis": null}}
        },
        {
          "data": {"values": [{}]},
          "mark": {"type": "text"},
          "encoding": {"x": {"datum": 1.97, "type": "quantitative", "axis": null}, "y": {"datum": -11.9, "type": "quantitative", "axis": null}, "text": {"value": "IMF  Bz"}}
        }
      ],
      "resolve": {"axis": {"x": "independent", "y": "independent"}}
    },
    {
      "width": 1002, "height": 130,
      "data": {"name": "speed"},
      "layer": [
        {
          "mark": {"type": "line", "stroke": "black", "strokeWidth": 1.6},
          "encoding": {
            "x": {"field": "d", "type": "quantitative", "scale": {"domain": [1, 18], "nice": false, "zero": false},
                  "axis": {"orient": "bottom", "values": [1,2,3,4,5,6,7,8,9,10,11,12,13,14,15,16,17,18], "tickSize": -6, "labels": false, "title": null}},
            "y": {"field": "v", "type": "quantitative", "scale": {"domain": [200, 800], "nice": false, "zero": false},
                  "axis": {"orient": "left", "values": [200,250,300,350,400,450,500,550,600,650,700,750,800],
                           "format": "d",
                           "tickSize": {"condition": {"test": "datum.value % 100 === 0", "value": -18}, "value": -10},
                           "labelOffset": {"condition": [{"test": "datum.value === 800", "value": 1}, {"test": "datum.value === 700", "value": -12}, {"test": "datum.value === 600", "value": -11}, {"test": "datum.value === 500", "value": -8}, {"test": "datum.value === 200", "value": -13}], "value": -3},
                           "labelExpr": "datum.value % 100 === 0 ? datum.label : ''", "labelPadding": 25,
                           "title": "[km/s]", "titleAngle": 270, "titleBaseline": "middle", "titleAlign": "center", "titleX": -83, "titleY": 37}}
          }
        },
        {
          "mark": {"type": "line", "opacity": 0},
          "encoding": {
            "x": {"field": "d", "type": "quantitative",
                  "axis": {"orient": "top", "values": [1,2,3,4,5,6,7,8,9,10,11,12,13,14,15,16,17,18], "tickSize": -6, "labels": false, "title": null}},
            "y": {"field": "v", "type": "quantitative",
                  "axis": {"orient": "right", "values": [200,250,300,350,400,450,500,550,600,650,700,750,800],
                           "tickSize": {"condition": {"test": "datum.value % 100 === 0", "value": -18}, "value": -10}, "labels": false, "title": null}}
          }
        },
        {
          "data": {"name": "events"},
          "mark": {"type": "rule", "stroke": "black", "strokeWidth": 1.6},
          "encoding": {"x": {"field": "d", "type": "quantitative", "axis": null}}
        },
        {
          "data": {"values": [{}]},
          "mark": {"type": "text"},
          "encoding": {"x": {"datum": 1.97, "type": "quantitative", "axis": null}, "y": {"datum": 600, "type": "quantitative", "axis": null}, "text": {"value": "Solar  wind  bulk  speed."}}
        }
      ],
      "resolve": {"axis": {"x": "independent", "y": "independent"}}
    },
    {
      "width": 1002, "height": 130,
      "data": {"name": "pres"},
      "layer": [
        {
          "mark": {"type": "line", "stroke": "black", "strokeWidth": 1.6},
          "encoding": {
            "x": {"field": "d", "type": "quantitative", "scale": {"domain": [1, 18], "nice": false, "zero": false},
                  "axis": {"orient": "bottom", "values": [1,2,3,4,5,6,7,8,9,10,11,12,13,14,15,16,17,18], "tickSize": -6, "labelPadding": 7,
                           "title": "Day  of  May  2001", "titleY": 41, "titleBaseline": "middle", "titleFontSize": 26}},
            "y": {"field": "v", "type": "quantitative", "scale": {"domain": [0, 8], "nice": false, "zero": false},
                  "axis": {"orient": "left", "values": [0,0.5,1,1.5,2,2.5,3,3.5,4,4.5,5,5.5,6,6.5,7,7.5,8],
                           "format": "d",
                           "tickSize": {"condition": {"test": "datum.value % 2 === 0", "value": -18}, "value": -10},
                           "labelOffset": {"condition": [{"test": "datum.value === 8", "value": 4}, {"test": "datum.value === 4", "value": -6}, {"test": "datum.value === 2", "value": -12}, {"test": "datum.value === 0", "value": -18}], "value": 0},
                           "labelExpr": "datum.value % 2 === 0 ? datum.label : ''", "labelPadding": 25,
                           "title": "[nPa]", "titleAngle": 270, "titleBaseline": "middle", "titleAlign": "center", "titleX": -83, "titleY": 50}}
          }
        },
        {
          "mark": {"type": "line", "opacity": 0},
          "encoding": {
            "x": {"field": "d", "type": "quantitative",
                  "axis": {"orient": "top", "values": [1,2,3,4,5,6,7,8,9,10,11,12,13,14,15,16,17,18], "tickSize": -6, "labels": false, "title": null}},
            "y": {"field": "v", "type": "quantitative",
                  "axis": {"orient": "right", "values": [0,0.5,1,1.5,2,2.5,3,3.5,4,4.5,5,5.5,6,6.5,7,7.5,8],
                           "tickSize": {"condition": {"test": "datum.value % 2 === 0", "value": -18}, "value": -10}, "labels": false, "title": null}}
          }
        },
        {
          "data": {"name": "events"},
          "mark": {"type": "rule", "stroke": "black", "strokeWidth": 1.6},
          "encoding": {"x": {"field": "d", "type": "quantitative", "axis": null}}
        },
        {
          "data": {"values": [{}]},
          "mark": {"type": "text"},
          "encoding": {"x": {"datum": 1.97, "type": "quantitative", "axis": null}, "y": {"datum": 4.87, "type": "quantitative", "axis": null}, "text": {"value": "Solar  wind  dynamic  pressure."}}
        }
      ],
      "resolve": {"axis": {"x": "independent", "y": "independent"}}
    }
  ]
}
